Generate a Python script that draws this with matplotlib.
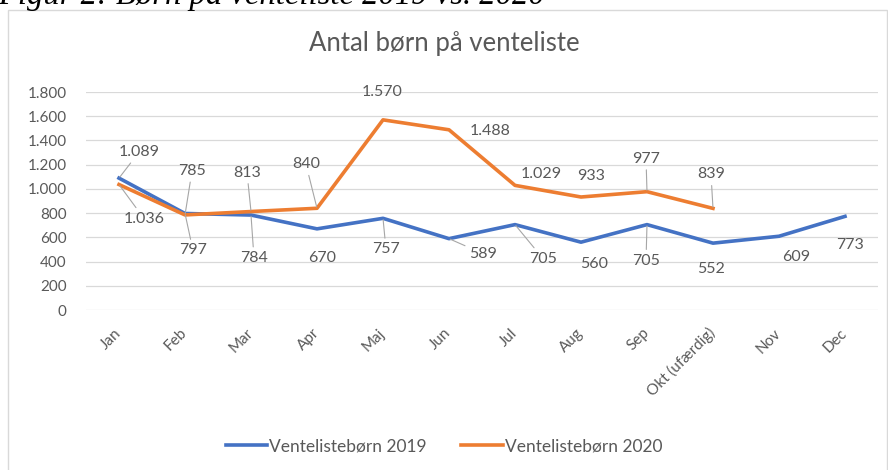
import matplotlib
matplotlib.use("Agg")
import matplotlib.pyplot as plt
from matplotlib.patches import Rectangle
import matplotlib.transforms as mtransforms

months = ["Jan", "Feb", "Mar", "Apr", "Maj", "Jun", "Jul", "Aug", "Sep",
          "Okt (ufærdig)", "Nov", "Dec"]
vals_2019 = [1089, 797, 784, 670, 757, 589, 705, 560, 705, 552, 609, 773]
vals_2020 = [1036, 785, 813, 840, 1570, 1488, 1029, 933, 977, 839]
label_2019 = "Ventelistebørn 2019"
label_2020 = "Ventelistebørn 2020"
yticks = [0, 200, 400, 600, 800, 1000, 1200, 1400, 1600, 1800]

# label offsets in pixels (dx, dy downwards)
off_2019 = [(20, -26), (8, 37), (3, 43), (5, 29), (3, 31), (34, 15),
            (28, 34), (13, 22), (-1, 36), (-2, 26), (17, 21), (5, 29)]
off_2020 = [(25, 34), (7, -44), (-4, -39), (-11, -44), (-1, -28), (41, 1),
            (26, -11), (10, -21), (-1, -33), (-2, -34)]

blue = "#4472C4"
orange = "#ED7D31"
txt = "#595959"
grid = "#D9D9D9"

plt.rcParams["font.family"] = ["Lato", "DejaVu Sans"]

W, H = 888, 470
fig = plt.figure(figsize=(W / 100, H / 100), dpi=100)
ax = fig.add_axes([86 / W, 1 - 310 / H, (878 - 86) / W, (310 - 92) / H])

# chart frame and the caption above it (cut off at the top, as in the source)
fig.patches.append(Rectangle((8 / W, -0.05), (887 - 8) / W, 1 - 10 / H + 0.05,
                             transform=fig.transFigure, fill=False,
                             edgecolor=grid, linewidth=1))
fig.text(-2 / W, 1 - 4 / H, "Figur 2: Børn på venteliste 2019 vs. 2020",
         family="Liberation Serif", style="italic", fontsize=23.5,
         color="black", ha="left", va="baseline")
fig.text(0.5, 1 - 44 / H, "Antal børn på venteliste", ha="center",
         va="center", fontsize=18.5, color=txt)

x19 = list(range(len(vals_2019)))
x20 = list(range(len(vals_2020)))
ax.plot(x19, vals_2019, color=blue, lw=2.6, label=label_2019,
        solid_joinstyle="round", zorder=3)
ax.plot(x20, vals_2020, color=orange, lw=2.6, label=label_2020,
        solid_joinstyle="round", zorder=3)


def fmt(v):
    return f"{v:,}".replace(",", ".")


def labels(xs, vs, offs):
    for x, v, (dx, dy) in zip(xs, vs, offs):
        dist = (dx ** 2 + dy ** 2) ** 0.5
        arrow = None
        if dist > 30 and abs(dy) > 10:
            arrow = dict(arrowstyle="-", color="#A6A6A6", lw=0.8,
                         shrinkA=1, shrinkB=1)
        ax.annotate(fmt(v), (x, v), xytext=(dx, -dy),
                    textcoords="offset pixels", ha="center", va="center",
                    fontsize=11.5, color=txt, arrowprops=arrow, zorder=4)


labels(x19, vals_2019, off_2019)
labels(x20, vals_2020, off_2020)

ax.set_xlim(-0.5, len(months) - 0.5)
ax.set_ylim(0, 1800)
ax.set_yticks(yticks)
ax.set_yticklabels([fmt(v) for v in yticks])
ax.set_xticks(range(len(months)))
ax.set_xticklabels(months, rotation=45, ha="right", va="center",
                   rotation_mode="anchor")
shift = mtransforms.ScaledTranslation(5 / 100, 0, fig.dpi_scale_trans)
for lab in ax.get_xticklabels():
    lab.set_transform(lab.get_transform() + shift)
ax.tick_params(axis="x", length=0, pad=15, labelsize=11, labelcolor=txt)
ax.tick_params(axis="y", length=0, pad=14, labelsize=11, labelcolor=txt)
ax.grid(axis="y", color=grid, lw=0.9)
ax.set_axisbelow(True)
for s in ax.spines.values():
    s.set_visible(False)

fig.legend(loc="center", bbox_to_anchor=(0.5, 1 - 446 / H), ncol=2,
           frameon=False, fontsize=12.5, labelcolor=txt, handlelength=2.4,
           handletextpad=0.1, columnspacing=2.0)

fig.savefig("out.png", dpi=100)
